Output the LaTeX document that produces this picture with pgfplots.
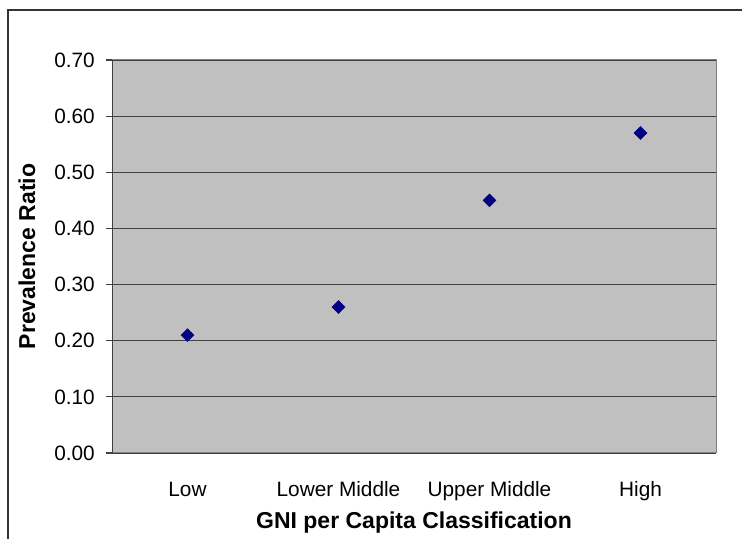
\documentclass[border=0pt]{standalone}
\usepackage{fontspec}
\setmainfont{Liberation Sans}
\usepackage{pgfplots}
\pgfplotsset{compat=1.18}
\definecolor{plotbg}{HTML}{C0C0C0}
\definecolor{gridc}{HTML}{404040}
\definecolor{boxc}{HTML}{808080}
\definecolor{navy}{HTML}{000080}
\definecolor{framec}{HTML}{333333}
\begin{document}
\begin{tikzpicture}[x=1bp,y=1bp]
\path[use as bounding box] (0,0) rectangle (742,539);
\draw[framec, line width=1.6bp] (8,0) -- (8,529) -- (742,529);
\begin{axis}[
  at={(112bp,86bp)}, anchor=south west,
  scale only axis, width=604bp, height=393bp,
  xmin=-0.5, xmax=3.5, ymin=0, ymax=0.7,
  xtick={0,1,2,3},
  xticklabels={Low, Lower Middle, Upper Middle, High},
  ytick={0,0.1,0.2,0.3,0.4,0.5,0.6,0.7},
  yticklabel style={/pgf/number format/fixed, /pgf/number format/fixed zerofill, /pgf/number format/precision=2},
  /pgf/number format/assume math mode=true,
  axis background/.style={fill=plotbg},
  axis line style={draw=boxc, line width=1bp},
  ymajorgrids, major grid style={draw=gridc, line width=1.2bp},
  tick style={draw=gridc, line width=1.2bp},
  ytick pos=left, tick align=outside, major tick length=6bp,
  x tick style={draw=none}, major x tick style={draw=none},
  tick label style={font=\fontsize{20.8bp}{25bp}\selectfont},
  xticklabel style={anchor=base, yshift=-38bp},
  yticklabel style={anchor=east, inner sep=0pt, xshift=-11bp},
  xlabel={GNI per Capita Classification},
  ylabel={Prevalence Ratio},
  every axis x label/.style={at={(axis description cs:0.5,-0.178)}, anchor=center, font=\fontsize{23bp}{27bp}\selectfont\bfseries},
  every axis y label/.style={at={(axis description cs:-0.1407,0.5)}, anchor=center, rotate=90, font=\fontsize{23bp}{27bp}\selectfont\bfseries},
]
\addplot[only marks, mark=square*, mark size=4.6bp, mark options={rotate=45, fill=navy, draw=navy}] coordinates {
  (0,0.21) (1,0.26) (2,0.45) (3,0.57)
};
\draw[gridc, line width=1.2bp] (rel axis cs:0,0) -- (rel axis cs:0,1);
\end{axis}
\end{tikzpicture}
\end{document}
